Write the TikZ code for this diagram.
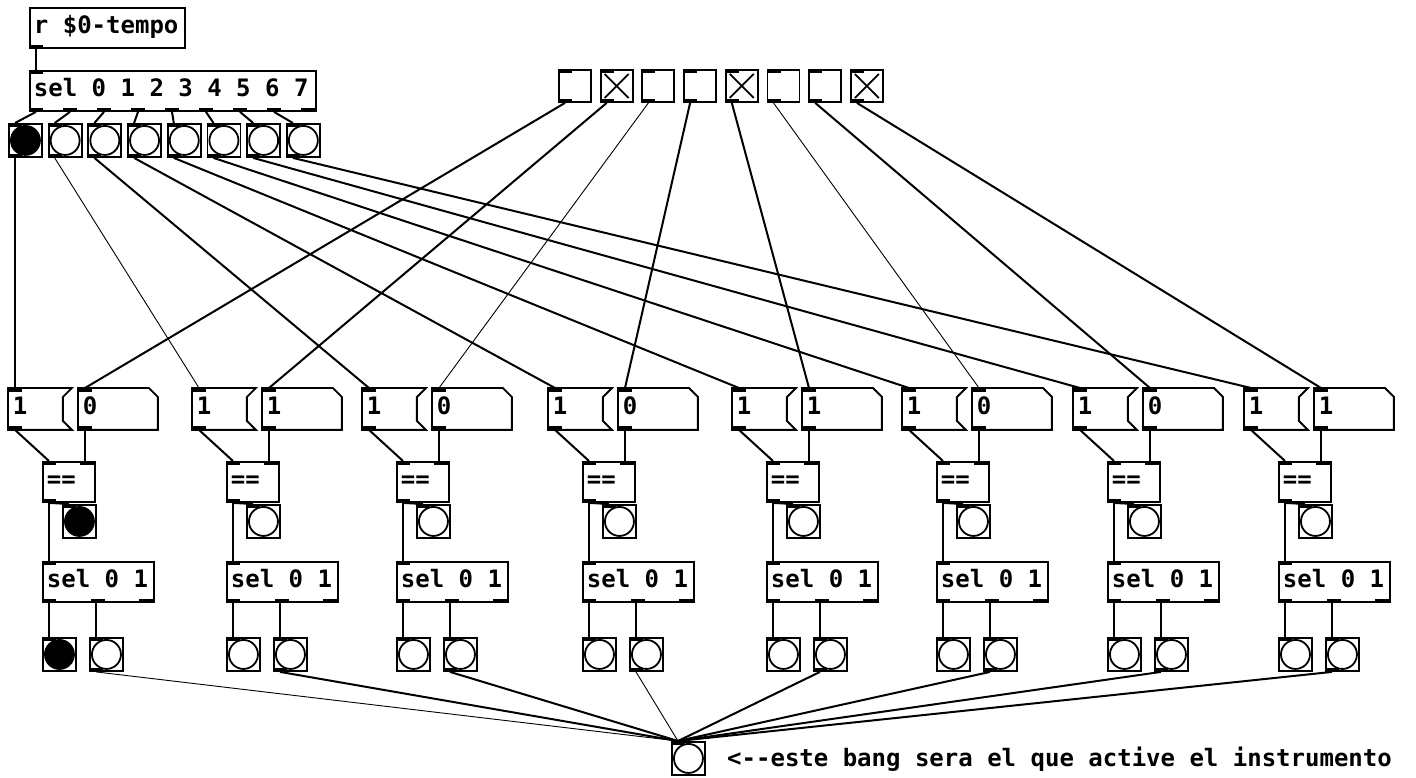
\documentclass[tikz,border=0pt]{standalone}
\usepackage{fontspec}
\setmonofont{DejaVu Sans Mono}

% Pd box font, with full-width spaces
\newcommand{\pdfont}{\ttfamily\bfseries\fontsize{24pt}{28pt}\selectfont\spaceskip 14.45pt\relax}
% inlets and outlets of a box, #2 = offset from its left edge
\newcommand{\inlet}[2]{\fill ([xshift={#2}]#1.north west) rectangle ++(14,4);}
\newcommand{\outlet}[2]{\fill ([xshift={#2}]#1.south west) rectangle ++(14,-4);}

\begin{document}
\begin{tikzpicture}[
    x=1pt, y=-1pt,
    every node/.style={font=\pdfont},
    box/.style={rectangle, draw, line width=1.9pt, anchor=north west, inner sep=0pt},
    obj/.style={box, minimum height=40pt, inner xsep=4pt, align=flush left, text height=17pt, text depth=5pt},
    atom/.style={obj, draw=none},
    bng/.style={box, minimum size=33pt,
      path picture={\draw[line width=1.8pt] (path picture bounding box.center) circle (14.5pt);}},
    bngon/.style={bng,
      path picture={\filldraw[line width=1.8pt] (path picture bounding box.center) circle (14.5pt);}},
    tgl/.style={box, minimum size=32pt},
    tglon/.style={tgl,
      path picture={\draw[line width=1.8pt]
        ([shift={(4pt,4pt)}]path picture bounding box.south west) -- ([shift={(-4pt,-4pt)}]path picture bounding box.north east)
        ([shift={(4pt,-4pt)}]path picture bounding box.north west) -- ([shift={(-4pt,4pt)}]path picture bounding box.south east);}},
    wire/.style={line width=2pt},
    thinwire/.style={line width=0.9pt}
  ]
  \fill[white] (0,0) rectangle (1416,778);
  \useasboundingbox (0,0) rectangle (1416,778);

  % tempo in, split into 8 steps
  \node[obj, text width=147pt] (rcv) at (29,7) {r \$0-tempo};
  \node[obj, text width=278pt] (sel) at (29,70) {sel 0 1 2 3 4 5 6 7};
  \outlet{rcv}{0}
  \inlet{sel}{0}
  \foreach \k in {0,...,8} {\outlet{sel}{34*\k}}
  \draw[wire] ([xshift=7]rcv.south west) -- ([xshift=7]sel.north west);

  \foreach \k/\st in {1/bngon,2/bng,3/bng,4/bng,5/bng,6/bng,7/bng,8/bng} {
    \node[\st] (b\k) at ({8+39.7*(\k-1)},123) {};
    \inlet{b\k}{0} \outlet{b\k}{0}
    \draw[wire] ([xshift={34*(\k-1)+7}]sel.south west) -- ([xshift=7]b\k.north west);
  }

  % step toggles
  \foreach \k/\st in {1/tgl,2/tglon,3/tgl,4/tgl,5/tglon,6/tgl,7/tgl,8/tglon} {
    \node[\st] (t\k) at ({558+41.7*(\k-1)},69) {};
    \inlet{t\k}{0} \outlet{t\k}{0}
  }

  % one column per step
  \foreach \cx/\v/\st [count=\i] in {8/0/bngon,192/1/bng,362/0/bng,548/0/bng,732/1/bng,902/0/bng,1073/0/bng,1244/1/bng} {
    \node[atom, text width=45pt] (m\i) at (\cx,388) {1};
    \node[atom, text width=70pt] (n\i) at (\cx+70,388) {\v};
    \node[obj, text width=44pt] (eq\i) at (\cx+34,461) {==};
    \node[\st] (eb\i) at (\cx+54,504) {};
    \node[obj, text width=103pt] (s\i) at (\cx+34,561) {sel 0 1};
    \node[\st] (bl\i) at (\cx+34,637) {};
    \node[bng] (br\i) at (\cx+81,637) {};

    % message box and number box outlines
    \draw[line width=1.9pt] (m\i.north west) -- ([xshift=9pt]m\i.north east) -- ([yshift=-9pt]m\i.north east)
      -- ([yshift=9pt]m\i.south east) -- ([xshift=9pt]m\i.south east) -- (m\i.south west) -- cycle;
    \draw[line width=1.9pt] (n\i.north west) -- ([xshift=-9pt]n\i.north east) -- ([yshift=-9pt]n\i.north east)
      -- (n\i.south east) -- (n\i.south west) -- cycle;

    \inlet{m\i}{0} \outlet{m\i}{0}
    \inlet{n\i}{0} \outlet{n\i}{0}
    \inlet{eq\i}{0} \inlet{eq\i}{38} \outlet{eq\i}{0}
    \inlet{eb\i}{0}
    \inlet{s\i}{0} \outlet{s\i}{0} \outlet{s\i}{48.5} \outlet{s\i}{97}
    \inlet{bl\i}{0} \inlet{br\i}{0} \outlet{br\i}{0}

    \draw[wire] ([xshift=7]m\i.south west) -- ([xshift=7]eq\i.north west);
    \draw[wire] ([xshift=7]n\i.south west) -- ([xshift=43]eq\i.north west);
    \draw[wire] ([xshift=7]eq\i.south west) -- ([xshift=7]eb\i.north west);
    \draw[wire] ([xshift=7]eq\i.south west) -- ([xshift=7]s\i.north west);
    \draw[wire] ([xshift=7]s\i.south west) -- ([xshift=7]bl\i.north west);
    \draw[wire] ([xshift=54]s\i.south west) -- ([xshift=7]br\i.north west);
  }

  % steps and toggles into the columns
  \foreach \k/\w in {1/wire,2/thinwire,3/wire,4/wire,5/wire,6/wire,7/wire,8/wire}
    \draw[\w] ([xshift=7]b\k.south west) -- ([xshift=7]m\k.north west);
  \foreach \k/\w in {1/wire,2/wire,3/thinwire,4/wire,5/wire,6/thinwire,7/wire,8/wire}
    \draw[\w] ([xshift=7]t\k.south west) -- ([xshift=7]n\k.north west);

  % all hits gathered in one bang
  \node[bng] (out) at (671,741) {};
  \inlet{out}{0}
  \foreach \i/\w in {1/thinwire,2/wire,3/wire,4/thinwire,5/wire,6/wire,7/wire,8/wire}
    \draw[\w] ([xshift=7]br\i.south west) -- ([xshift=7]out.north west);
  \node[anchor=west, inner sep=0pt] (note) at (727,759) {<-\kern0pt-este bang sera el que active el instrumento};
\end{tikzpicture}
\end{document}
